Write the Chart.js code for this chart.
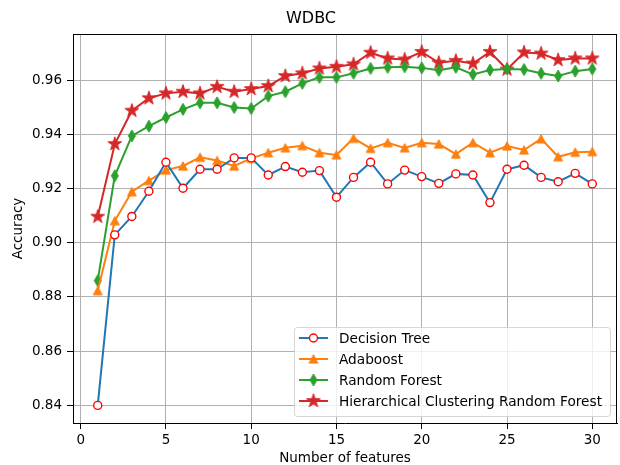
<!DOCTYPE html>
<html>
<head>
<meta charset="utf-8">
<script src="https://cdn.jsdelivr.net/npm/chart.js@4.4.1/dist/chart.umd.min.js"></script>
<style>
  html, body { margin: 0; padding: 0; background: #fff; overflow: hidden; }
  #wrap { width: 624px; height: 465px; }
</style>
</head>
<body>
<div id="wrap"><canvas id="acc" width="624" height="465"></canvas></div>
<script>
const features = [1, 2, 3, 4, 5, 6, 7, 8, 9, 10, 11, 12, 13, 14, 15,
                  16, 17, 18, 19, 20, 21, 22, 23, 24, 25, 26, 27, 28, 29, 30];
const decisionTree = [0.8400, 0.9029, 0.9097, 0.9190, 0.9297, 0.9201, 0.9271, 0.9271, 0.9313, 0.9313,
                      0.9250, 0.9281, 0.9260, 0.9266, 0.9168, 0.9241, 0.9297, 0.9217, 0.9268, 0.9244,
                      0.9219, 0.9254, 0.9250, 0.9148, 0.9271, 0.9286, 0.9241, 0.9225, 0.9256, 0.9217];
const adaboost = [0.8823, 0.9081, 0.9188, 0.9229, 0.9268, 0.9283, 0.9315, 0.9303, 0.9283, 0.9311,
                  0.9332, 0.9350, 0.9358, 0.9332, 0.9324, 0.9385, 0.9348, 0.9369, 0.9350, 0.9369,
                  0.9364, 0.9327, 0.9369, 0.9332, 0.9357, 0.9342, 0.9383, 0.9317, 0.9334, 0.9336];
const randomForest = [0.8860, 0.9247, 0.9394, 0.9430, 0.9462, 0.9492, 0.9516, 0.9516, 0.9499, 0.9495,
                      0.9541, 0.9557, 0.9588, 0.9610, 0.9610, 0.9625, 0.9643, 0.9647, 0.9649, 0.9645,
                      0.9636, 0.9647, 0.9621, 0.9637, 0.9641, 0.9639, 0.9625, 0.9615, 0.9633, 0.9641];
const hcrf = [0.9096, 0.9364, 0.9487, 0.9533, 0.9551, 0.9557, 0.9551, 0.9575, 0.9557, 0.9567,
              0.9578, 0.9615, 0.9625, 0.9643, 0.9649, 0.9658, 0.9701, 0.9680, 0.9676, 0.9704,
              0.9664, 0.9671, 0.9661, 0.9704, 0.9639, 0.9702, 0.9698, 0.9674, 0.9680, 0.9680];
const xTicks = [0, 5, 10, 15, 20, 25, 30];
const yTicks = [0.84, 0.86, 0.88, 0.90, 0.92, 0.94, 0.96];

const FONT = 'DejaVu Sans';

// small canvases used as marker images
function sprite(size, draw) {
  const c = document.createElement('canvas');
  c.width = c.height = size;
  const g = c.getContext('2d');
  g.translate(size / 2, size / 2);
  draw(g);
  return c;
}
function fillShape(g, pts, color) {
  g.beginPath();
  pts.forEach(([x, y], i) => (i ? g.lineTo(x, y) : g.moveTo(x, y)));
  g.closePath();
  g.fillStyle = color; g.fill();
  g.lineWidth = 1; g.strokeStyle = color; g.stroke();
}
const triMark = sprite(14, g => fillShape(g, [[0, -4.3], [4.4, 4.1], [-4.4, 4.1]], '#ff7f0e'));
const diaMark = sprite(16, g => fillShape(g, [[0, -6], [3.5, 0], [0, 6], [-3.5, 0]], '#2ca02c'));
const starMark = sprite(18, g => {
  const pts = [];
  for (let k = 0; k < 10; k++) {
    const r = k % 2 ? 2.75 : 7.2;
    const a = -Math.PI / 2 + k * Math.PI / 5;
    pts.push([r * Math.cos(a), r * Math.sin(a)]);
  }
  fillShape(g, pts, '#d62728');
});

const xy = arr => features.map((f, i) => ({ x: f, y: arr[i] }));

function series(label, arr, color, style, extra) {
  return Object.assign({
    label, data: xy(arr),
    borderColor: color, backgroundColor: color, borderWidth: 2,
    pointStyle: style, pointRadius: 5, pointHoverRadius: 5,
    tension: 0
  }, extra || {});
}

// top/right spines and the boxed legend inside the plot
const frameAndLegend = {
  id: 'frameAndLegend',
  afterDatasetsDraw(chart) {
    const { ctx, chartArea: a } = chart;
    ctx.save();
    ctx.strokeStyle = '#000';
    ctx.lineWidth = 1;
    ctx.beginPath();
    ctx.moveTo(a.left, a.top + 0.5); ctx.lineTo(a.right, a.top + 0.5);
    ctx.moveTo(a.right - 0.5, a.top); ctx.lineTo(a.right - 0.5, a.bottom);
    ctx.stroke();

    const sets = chart.data.datasets;
    ctx.font = `13.7px ${FONT}`;
    const textW = Math.max(...sets.map(d => ctx.measureText(d.label).width));
    const rowH = 21;
    const w = 45 + textW + 8;
    const h = 11 + (sets.length - 1) * rowH + 15;
    const x0 = a.right - 7 - w, y0 = a.bottom - 7 - h;

    ctx.beginPath();
    ctx.roundRect(x0 + 0.5, y0 + 0.5, w, h, 3);
    ctx.fillStyle = 'rgba(255,255,255,0.8)';
    ctx.fill();
    ctx.strokeStyle = 'rgba(204,204,204,0.8)';
    ctx.stroke();

    sets.forEach((d, i) => {
      const cy = y0 + 11 + i * rowH;
      ctx.beginPath();
      ctx.moveTo(x0 + 5, cy); ctx.lineTo(x0 + 34, cy);
      ctx.strokeStyle = d.borderColor; ctx.lineWidth = 2;
      ctx.stroke();
      const mx = x0 + 19.5;
      if (d.pointStyle === 'circle') {
        ctx.beginPath();
        ctx.arc(mx, cy, d.pointRadius, 0, Math.PI * 2);
        ctx.fillStyle = d.pointBackgroundColor;
        ctx.fill();
        ctx.lineWidth = d.pointBorderWidth;
        ctx.strokeStyle = d.pointBorderColor;
        ctx.stroke();
      } else {
        const img = d.pointStyle;
        ctx.drawImage(img, mx - img.width / 2, cy - img.height / 2);
      }
      ctx.fillStyle = '#000';
      ctx.textBaseline = 'middle';
      ctx.fillText(d.label, x0 + 45, cy + 1);
    });
    ctx.restore();
  }
};

const tickFont = { family: FONT, size: 13.5 };

new Chart(document.getElementById('acc'), {
  type: 'line',
  data: {
    datasets: [
      series('Decision Tree', decisionTree, '#1f77b4', 'circle', {
        pointRadius: 4, pointHoverRadius: 4,
        pointBackgroundColor: '#ffffff', pointBorderColor: '#ff0000', pointBorderWidth: 1.4
      }),
      series('Adaboost', adaboost, '#ff7f0e', triMark),
      series('Random Forest', randomForest, '#2ca02c', diaMark),
      series('Hierarchical Clustering Random Forest', hcrf, '#d62728', starMark)
    ]
  },
  options: {
    responsive: false,
    animation: false,
    layout: { padding: { right: 2 } },
    plugins: {
      legend: { display: false },
      tooltip: { enabled: false },
      title: {
        display: true, text: 'WDBC', color: '#000',
        font: { family: FONT, size: 16, weight: 'normal', lineHeight: 1.2 },
        padding: { top: 9, bottom: 5.8 }
      }
    },
    scales: {
      x: {
        type: 'linear', min: -0.45, max: 31.45,
        afterFit: s => { s.height = 42; },
        afterBuildTicks: s => { s.ticks = xTicks.map(v => ({ value: v })); },
        ticks: { font: tickFont, color: '#000', padding: 3, maxRotation: 0, autoSkip: false,
                 callback: v => String(v) },
        grid: { color: '#b0b0b0', lineWidth: 1, tickLength: 6, tickColor: '#000' },
        border: { color: '#000', width: 1 },
        title: { display: true, text: 'Number of features', color: '#000',
                 font: { family: FONT, size: 13.5, lineHeight: 1 },
                 padding: { top: 0, bottom: 0 } }
      },
      y: {
        type: 'linear', min: 0.8335, max: 0.977,
        afterFit: s => { s.width = 73; },
        afterBuildTicks: s => { s.ticks = yTicks.map(v => ({ value: v })); },
        ticks: { font: tickFont, color: '#000', padding: 5, autoSkip: false,
                 callback: v => v.toFixed(2) },
        grid: { color: '#b0b0b0', lineWidth: 1, tickLength: 6, tickColor: '#000' },
        border: { color: '#000', width: 1 },
        title: { display: true, text: 'Accuracy', color: '#000', font: tickFont,
                 padding: { top: 10, bottom: 0 } }
      }
    }
  },
  plugins: [frameAndLegend]
});
</script>
</body>
</html>
